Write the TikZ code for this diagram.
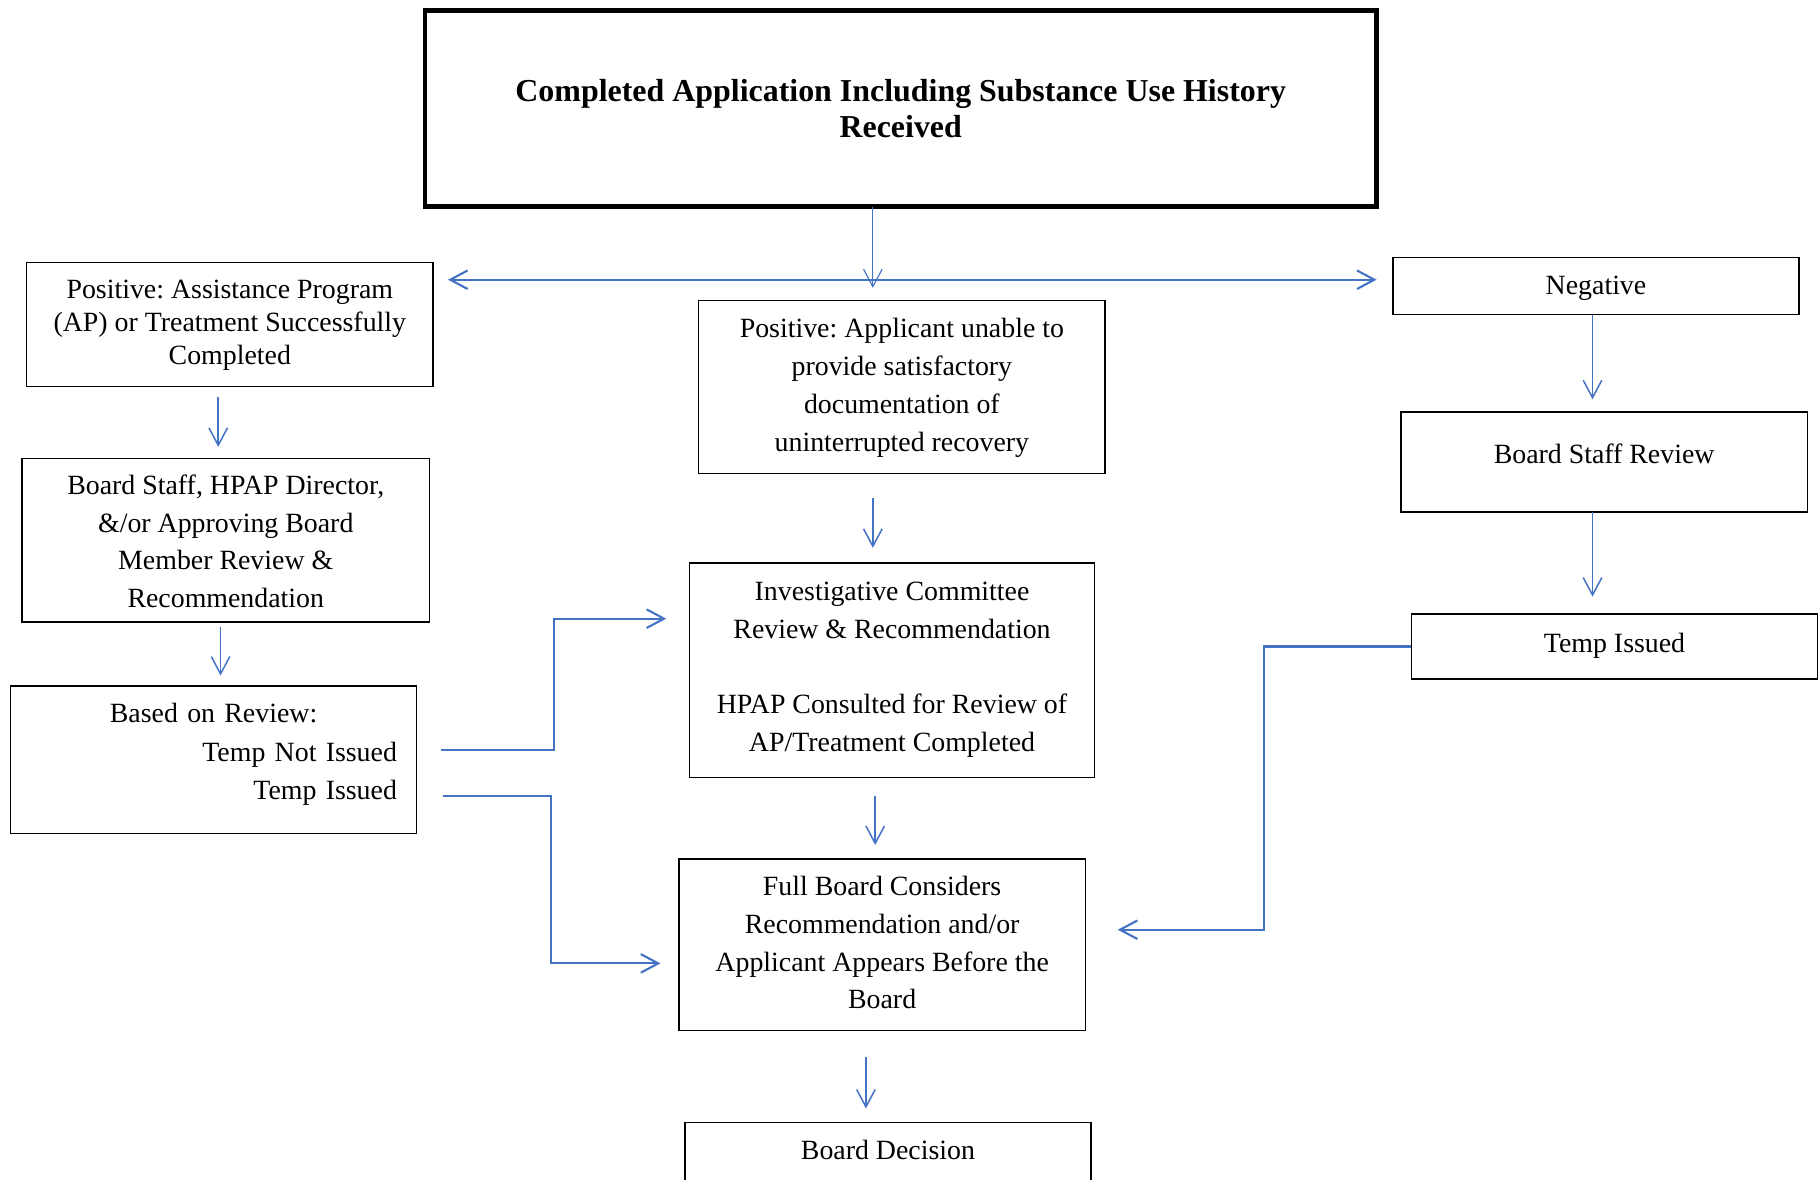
\documentclass[tikz,border=0pt]{standalone}
\usepackage{fontspec}
\setmainfont{Liberation Serif}
\usetikzlibrary{arrows.meta}
\definecolor{flowblue}{RGB}{68,114,196}
\frenchspacing
\begin{document}
\begin{tikzpicture}[x=0.5pt, y=-0.5pt,
  box/.style={draw=black, line width=0.6pt, rectangle, inner sep=0pt, outer sep=0pt},
  lbl/.style={align=center, inner sep=0pt, font=\fontsize{12pt}{16.35pt}\selectfont},
  flow/.style={draw=flowblue, line width=0.65pt, -{Straight Barb[length=7.5pt, width=8pt]}},
  flowthick/.style={flow, line width=0.9pt}]
\useasboundingbox (0,0) rectangle (1568,1016);
\clip (0,0) rectangle (1568,1016);

% boxes
\node[box, line width=2pt, minimum width=410pt, minimum height=84.5pt] (top) at (776,93.5) {};
\node[box, minimum width=175pt, minimum height=53.5pt] (l1) at (198,279.5) {};
\node[box, minimum width=175.5pt, minimum height=70.5pt] (l2) at (194.5,465.5) {};
\node[box, minimum width=175pt, minimum height=63.5pt] (l3) at (184,654.5) {};
\node[box, minimum width=175pt, minimum height=74.5pt] (m1) at (777,333.5) {};
\node[box, minimum width=174.5pt, minimum height=92.5pt] (m2) at (768.5,577.5) {};
\node[box, minimum width=175pt, minimum height=74pt] (m3) at (760,814) {};
\node[box, minimum width=175pt, minimum height=36.5pt] (m4) at (765,1003.5) {};
\node[box, minimum width=175pt, minimum height=24.5pt] (r1) at (1375,246.5) {};
\node[box, minimum width=175pt, minimum height=43pt] (r2) at (1382,398) {};
\node[box, minimum width=175pt, minimum height=28pt] (r3) at (1391,557) {};

% box texts
\node[lbl, font=\bfseries\fontsize{13.75pt}{15.5pt}\selectfont] (ttop) at (776,93.5)
  {Completed Application Including Substance Use History\\Received};
\node[lbl, font=\fontsize{12pt}{14.25pt}\selectfont] (tl1) at (198,280.5)
  {Positive: Assistance Program\\(AP) or Treatment Successfully\\Completed};
\node[lbl, font=\fontsize{12pt}{16.15pt}\selectfont] (tl2) at (194.5,466.5)
  {Board Staff, HPAP Director,\\\&/or Approving Board\\Member Review \&\\Recommendation};
\node[lbl, text width=158pt, font=\fontsize{12pt}{16.5pt}\selectfont] (tl3) at (184,650)
  {Based on Review:\\\mbox{}\hfill Temp Not Issued\\\mbox{}\hfill Temp Issued};
\node[lbl] (tm1) at (777,334)
  {Positive: Applicant unable to\\provide satisfactory\\documentation of\\uninterrupted recovery};
\node[lbl] (tm2) at (768.5,577)
  {Investigative Committee\\Review \& Recommendation\\[16.35pt]HPAP Consulted for Review of\\AP/Treatment Completed};
\node[lbl] (tm3) at (760,812)
  {Full Board Considers\\Recommendation and/or\\Applicant Appears Before the\\Board};
\node[lbl] (tm4) at (765,991) {Board Decision};
\node[lbl] (tr1) at (1375,248) {Negative};
\node[lbl] (tr2) at (1382,391) {Board Staff Review};
\node[lbl] (tr3) at (1391,556) {Temp Issued};

% split below the application box
\coordinate (hub) at ([xshift=-12pt, yshift=-31.5pt]top.south);
\draw[flow, line width=0.5pt] ([xshift=-12pt]top.south) -- ++(0,70);
\draw[flowthick] (hub) -- ++(-366,0);
\draw[flowthick] (hub) -- ++(434,0);

% left column
\draw[flow] ([xshift=-5pt, yshift=-4.5pt]l1.south) -- ++(0,43);
\draw[flow] ([xshift=-2.25pt, yshift=-2pt]l2.south) -- ++(0,42);

% middle column
\draw[flow] ([xshift=-12.5pt, yshift=-10.5pt]m1.south) -- ++(0,43);
\draw[flow] ([xshift=-7.25pt, yshift=-8pt]m2.south) -- ++(0,42);
\draw[flow] ([xshift=-7pt, yshift=-11.5pt]m3.south) -- ++(0,44);

% right column
\draw[flow] ([xshift=-1.5pt]r1.south) -- ++(0,73);
\draw[flow] ([xshift=-5pt]r2.south) -- ++(0,73);

% elbow connectors
\draw[flowthick] (r3.west) -- ++(-127,0) -- ++(0,244) -- ++(-126,0);
\draw[flowthick] ([xshift=10.5pt, yshift=4.25pt]l3.east) -- ++(97,0) -- ++(0,-113) -- ++(97,0);
\draw[flowthick] ([xshift=11.5pt, yshift=-15.75pt]l3.east) -- ++(93,0) -- ++(0,144) -- ++(94,0);
\end{tikzpicture}
\end{document}
